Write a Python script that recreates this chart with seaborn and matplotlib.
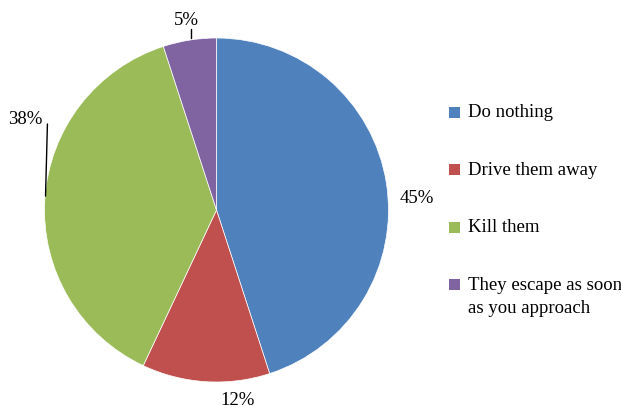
import matplotlib
matplotlib.use("Agg")
import matplotlib.pyplot as plt
import seaborn as sns
from matplotlib.patches import Rectangle

categories = ["Do nothing", "Drive them away", "Kill them",
              "They escape as soon\nas you approach"]
values = [45, 12, 38, 5]
pct_labels = ["45%", "12%", "38%", "5%"]
colors = ["#4F81BD", "#C0504D", "#9BBB59", "#8064A2"]

sns.set_theme(style="white")
plt.rcParams['font.family'] = ['Liberation Serif', 'DejaVu Serif']

W, H = 621, 412
fig = plt.figure(figsize=(W / 100, H / 100), dpi=100)
ax = fig.add_axes([44 / W, 30 / H, 345 / W, 344 / H])
palette = sns.color_palette(colors)

wedges, texts = ax.pie(values, labels=pct_labels, colors=palette, startangle=90,
                       counterclock=False, radius=1.0,
                       wedgeprops=dict(linewidth=0.5, edgecolor="white"),
                       textprops=dict(fontsize=13.5, color="black"))
label_pos = [(1.163, 0.067), (0.122, -1.11), (-1.11, 0.525), (-0.174, 1.10)]
for t, p in zip(texts, label_pos):
    t.set_position(p)
    t.set_ha("center")
    t.set_va("center")
    t.set_clip_on(False)

# leader lines
ax.plot([-0.151, -0.151], [1.052, 1.0], color="black", lw=1, clip_on=False)
ax.plot([-0.983, -0.994], [0.5, 0.081], color="black", lw=1, clip_on=False)

ax.set_xlim(-1, 1)
ax.set_ylim(-1, 1)
ax.set_aspect("equal")
ax.axis("off")

# legend (Excel style: first lines evenly spaced)
sq = 11
for i, (lab, c) in enumerate(zip(categories, palette)):
    yc = 112.5 + 57.4 * i
    fig.add_artist(Rectangle((449 / W, 1 - (yc + sq / 2) / H), sq / W, sq / H,
                             transform=fig.transFigure, facecolor=c, edgecolor="none"))
    fig.text(467.5 / W, 1 - (yc - 8.2) / H, lab, ha="left", va="top",
             fontsize=13.5, linespacing=1.5, color="black")

fig.savefig("out.png", dpi=100)
